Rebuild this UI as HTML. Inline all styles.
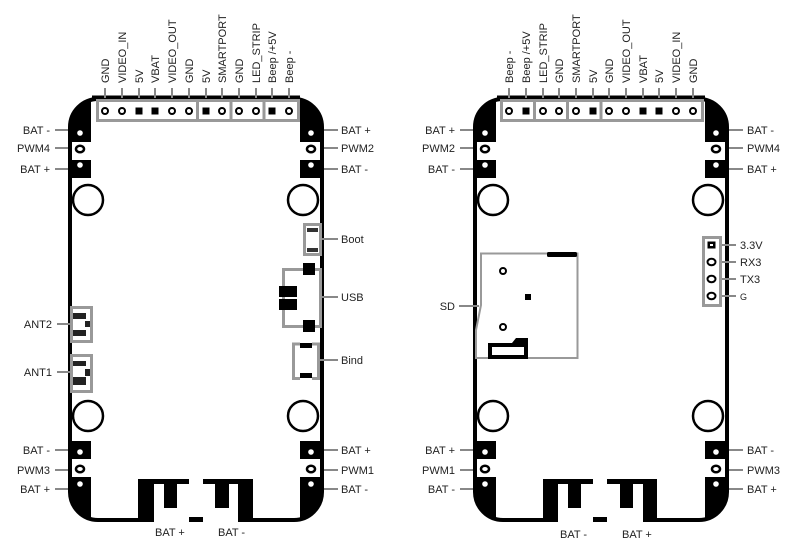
<!DOCTYPE html>
<html><head><meta charset="utf-8"><style>
html,body{margin:0;padding:0;background:#fff;}
svg{display:block;}
text{font-family:"Liberation Sans",sans-serif;font-size:11px;fill:#222;}
.h{font-size:11px;}
</style></head><body>
<svg width="800" height="553" viewBox="0 0 800 553">
<defs>
<clipPath id="cL"><rect x="70" y="99" width="252" height="421" rx="28"/></clipPath>
<clipPath id="cR"><rect x="475" y="99" width="252" height="421" rx="28"/></clipPath>
</defs>

<!-- ===== LEFT BOARD ===== -->
<g clip-path="url(#cL)">
<rect x="66" y="95" width="25" height="47" fill="#000"/>
<rect x="66" y="160" width="25" height="18" fill="#000"/>
<rect x="66" y="441" width="25" height="18" fill="#000"/>
<rect x="66" y="477" width="25" height="47" fill="#000"/>
<rect x="300" y="95" width="25" height="47" fill="#000"/>
<rect x="300" y="160" width="25" height="18" fill="#000"/>
<rect x="300" y="441" width="25" height="18" fill="#000"/>
<rect x="300" y="477" width="25" height="47" fill="#000"/>
</g>
<rect x="70" y="99" width="252" height="421" rx="28" fill="none" stroke="#000" stroke-width="4"/>
<line x1="92" y1="98" x2="300" y2="98" stroke="#000" stroke-width="5"/>
<!-- bottom pads -->
<rect x="138" y="479" width="51" height="43" fill="#000"/>
<rect x="154" y="484" width="35" height="39" fill="#fff"/>
<rect x="164" y="484" width="13" height="24" fill="#000"/>
<rect x="203" y="479" width="50" height="43" fill="#000"/>
<rect x="203" y="484" width="35" height="39" fill="#fff"/>
<rect x="215" y="484" width="14" height="24" fill="#000"/>
<rect x="189" y="517" width="14" height="5" fill="#000"/>
<!-- pad holes -->
<g fill="#fff">
<circle cx="80" cy="133" r="2.8"/><circle cx="80" cy="165" r="2.8"/>
<circle cx="80" cy="452" r="2.8"/><circle cx="80" cy="484" r="2.8"/>
<circle cx="311" cy="133" r="2.8"/><circle cx="311" cy="165" r="2.8"/>
<circle cx="311" cy="452" r="2.8"/><circle cx="311" cy="484" r="2.8"/>
</g>
<g fill="none" stroke="#000" stroke-width="2.5">
<ellipse cx="80" cy="149" rx="4" ry="3.3"/><ellipse cx="80" cy="469" rx="4" ry="3.3"/>
<ellipse cx="311" cy="149" rx="4" ry="3.3"/><ellipse cx="311" cy="469" rx="4" ry="3.3"/>
<circle cx="88" cy="200" r="15"/><circle cx="303" cy="200" r="15"/>
<circle cx="88" cy="416" r="15"/><circle cx="303" cy="416" r="15"/>
</g>
<!-- header -->
<rect x="97.5" y="100.5" width="201" height="20" fill="#fff" stroke="#999" stroke-width="3"/>
<g stroke="#999" stroke-width="3"><line x1="197.5" y1="101" x2="197.5" y2="121"/><line x1="231" y1="101" x2="231" y2="121"/><line x1="264" y1="101" x2="264" y2="121"/></g>
<g stroke="#888" stroke-width="2"><line x1="105" y1="88" x2="105" y2="98"/><line x1="122" y1="88" x2="122" y2="98"/><line x1="139" y1="88" x2="139" y2="98"/><line x1="155" y1="88" x2="155" y2="98"/><line x1="172" y1="88" x2="172" y2="98"/><line x1="189" y1="88" x2="189" y2="98"/><line x1="206" y1="88" x2="206" y2="98"/><line x1="222" y1="88" x2="222" y2="98"/><line x1="239" y1="88" x2="239" y2="98"/><line x1="256" y1="88" x2="256" y2="98"/><line x1="272" y1="88" x2="272" y2="98"/><line x1="289" y1="88" x2="289" y2="98"/></g>
<g fill="none" stroke="#000" stroke-width="2"><circle cx="105" cy="111" r="3"/><circle cx="122" cy="111" r="3"/><circle cx="172" cy="111" r="3"/><circle cx="189" cy="111" r="3"/><circle cx="222" cy="111" r="3"/><circle cx="239" cy="111" r="3"/><circle cx="256" cy="111" r="3"/><circle cx="289" cy="111" r="3"/></g>
<g fill="#000"><rect x="135.5" y="107.5" width="7" height="7"/><rect x="151.5" y="107.5" width="7" height="7"/><rect x="202.5" y="107.5" width="7" height="7"/><rect x="268.5" y="107.5" width="7" height="7"/></g>
<text class="h" transform="translate(109,83) rotate(-90)">GND</text>
<text class="h" transform="translate(126,83) rotate(-90)">VIDEO_IN</text>
<text class="h" transform="translate(143,83) rotate(-90)">5V</text>
<text class="h" transform="translate(159,83) rotate(-90)">VBAT</text>
<text class="h" transform="translate(176,83) rotate(-90)">VIDEO_OUT</text>
<text class="h" transform="translate(193,83) rotate(-90)">GND</text>
<text class="h" transform="translate(210,83) rotate(-90)">5V</text>
<text class="h" transform="translate(226,83) rotate(-90)">SMARTPORT</text>
<text class="h" transform="translate(243,83) rotate(-90)">GND</text>
<text class="h" transform="translate(260,83) rotate(-90)">LED_STRIP</text>
<text class="h" transform="translate(276,83) rotate(-90)">Beep /+5V</text>
<text class="h" transform="translate(293,83) rotate(-90)">Beep -</text>
<!-- side leaders -->
<g stroke="#888" stroke-width="2">
<line x1="55" y1="130" x2="68" y2="130"/><line x1="55" y1="148" x2="68" y2="148"/><line x1="55" y1="169" x2="68" y2="169"/>
<line x1="55" y1="450" x2="68" y2="450"/><line x1="55" y1="470" x2="68" y2="470"/><line x1="55" y1="489" x2="68" y2="489"/>
<line x1="324" y1="130" x2="338" y2="130"/><line x1="324" y1="148" x2="338" y2="148"/><line x1="324" y1="169" x2="338" y2="169"/>
<line x1="324" y1="450" x2="338" y2="450"/><line x1="324" y1="470" x2="338" y2="470"/><line x1="324" y1="489" x2="338" y2="489"/>
<line x1="57" y1="324" x2="70" y2="324"/><line x1="57" y1="372" x2="70" y2="372"/>
<line x1="322" y1="239" x2="338" y2="239"/><line x1="322" y1="297" x2="338" y2="297"/><line x1="320" y1="360" x2="338" y2="360"/>
</g>
<g text-anchor="end">
<text x="50" y="134">BAT -</text><text x="50" y="152">PWM4</text><text x="50" y="173">BAT +</text>
<text x="50" y="454">BAT -</text><text x="50" y="474">PWM3</text><text x="50" y="493">BAT +</text>
<text x="52" y="328">ANT2</text><text x="52" y="376">ANT1</text>
</g>
<text x="341" y="134">BAT +</text><text x="341" y="152">PWM2</text><text x="341" y="173">BAT -</text>
<text x="341" y="454">BAT +</text><text x="341" y="474">PWM1</text><text x="341" y="493">BAT -</text>
<text x="341" y="243">Boot</text><text x="341" y="301">USB</text><text x="341" y="364">Bind</text>
<text x="155" y="536">BAT +</text><text x="218" y="536">BAT -</text>
<!-- ANT -->
<rect x="71.5" y="307.5" width="20" height="34" fill="#fff" stroke="#999" stroke-width="3"/>
<rect x="73" y="313" width="13" height="6" fill="#222"/><rect x="85" y="321" width="5" height="6" fill="#222"/><rect x="73" y="330" width="13" height="6" fill="#222"/>
<rect x="71.5" y="355.5" width="20" height="36" fill="#fff" stroke="#999" stroke-width="3"/>
<rect x="73" y="361" width="13" height="5" fill="#222"/><rect x="85" y="369" width="5" height="7" fill="#222"/><rect x="73" y="377" width="13" height="8" fill="#222"/>
<!-- Boot -->
<rect x="304.5" y="224.5" width="16" height="30" fill="#fff" stroke="#999" stroke-width="3"/>
<rect x="307" y="228" width="11" height="4" fill="#333"/><rect x="307" y="248" width="11" height="4" fill="#333"/>
<!-- USB -->
<rect x="283.5" y="269.5" width="37" height="57" fill="none" stroke="#999" stroke-width="3"/>
<rect x="303" y="263" width="12" height="12" fill="#000"/><rect x="303" y="320" width="12" height="12" fill="#000"/>
<rect x="279" y="286" width="18" height="11" fill="#000"/><rect x="279" y="299" width="18" height="11" fill="#000"/>
<!-- Bind -->
<path d="M300 344 H293.5 V378.5 H300 M312 344 H318.5 V378.5 H312" fill="none" stroke="#999" stroke-width="3"/>
<rect x="300" y="343" width="12" height="5" fill="#000"/><rect x="300" y="373" width="12" height="5" fill="#000"/>

<!-- ===== RIGHT BOARD ===== -->
<g clip-path="url(#cR)">
<rect x="471" y="95" width="25" height="47" fill="#000"/>
<rect x="471" y="160" width="25" height="18" fill="#000"/>
<rect x="471" y="441" width="25" height="18" fill="#000"/>
<rect x="471" y="477" width="25" height="47" fill="#000"/>
<rect x="705" y="95" width="25" height="47" fill="#000"/>
<rect x="705" y="160" width="25" height="18" fill="#000"/>
<rect x="705" y="441" width="25" height="18" fill="#000"/>
<rect x="705" y="477" width="25" height="47" fill="#000"/>
</g>
<rect x="475" y="99" width="252" height="421" rx="28" fill="none" stroke="#000" stroke-width="4"/>
<line x1="497" y1="98" x2="705" y2="98" stroke="#000" stroke-width="5"/>
<rect x="543" y="479" width="50" height="43" fill="#000"/>
<rect x="558" y="484" width="35" height="39" fill="#fff"/>
<rect x="568" y="484" width="13" height="24" fill="#000"/>
<rect x="607" y="479" width="50" height="43" fill="#000"/>
<rect x="607" y="484" width="36" height="39" fill="#fff"/>
<rect x="620" y="484" width="13" height="24" fill="#000"/>
<rect x="593" y="517" width="14" height="5" fill="#000"/>
<g fill="#fff">
<circle cx="485" cy="133" r="2.8"/><circle cx="485" cy="165" r="2.8"/>
<circle cx="485" cy="452" r="2.8"/><circle cx="485" cy="484" r="2.8"/>
<circle cx="716" cy="133" r="2.8"/><circle cx="716" cy="165" r="2.8"/>
<circle cx="716" cy="452" r="2.8"/><circle cx="716" cy="484" r="2.8"/>
</g>
<g fill="none" stroke="#000" stroke-width="2.5">
<ellipse cx="485" cy="149" rx="4" ry="3.3"/><ellipse cx="485" cy="469" rx="4" ry="3.3"/>
<ellipse cx="716" cy="149" rx="4" ry="3.3"/><ellipse cx="716" cy="469" rx="4" ry="3.3"/>
<circle cx="493" cy="200" r="15"/><circle cx="708" cy="200" r="15"/>
<circle cx="493" cy="416" r="15"/><circle cx="708" cy="416" r="15"/>
</g>
<rect x="501.5" y="100.5" width="201" height="20" fill="#fff" stroke="#999" stroke-width="3"/>
<g stroke="#999" stroke-width="3"><line x1="534.5" y1="101" x2="534.5" y2="121"/><line x1="567.5" y1="101" x2="567.5" y2="121"/><line x1="601" y1="101" x2="601" y2="121"/></g>
<g stroke="#888" stroke-width="2"><line x1="509" y1="88" x2="509" y2="98"/><line x1="526" y1="88" x2="526" y2="98"/><line x1="543" y1="88" x2="543" y2="98"/><line x1="559" y1="88" x2="559" y2="98"/><line x1="576" y1="88" x2="576" y2="98"/><line x1="593" y1="88" x2="593" y2="98"/><line x1="609" y1="88" x2="609" y2="98"/><line x1="626" y1="88" x2="626" y2="98"/><line x1="643" y1="88" x2="643" y2="98"/><line x1="659" y1="88" x2="659" y2="98"/><line x1="676" y1="88" x2="676" y2="98"/><line x1="693" y1="88" x2="693" y2="98"/></g>
<g fill="none" stroke="#000" stroke-width="2"><circle cx="509" cy="111" r="3"/><circle cx="543" cy="111" r="3"/><circle cx="559" cy="111" r="3"/><circle cx="576" cy="111" r="3"/><circle cx="609" cy="111" r="3"/><circle cx="626" cy="111" r="3"/><circle cx="676" cy="111" r="3"/><circle cx="693" cy="111" r="3"/></g>
<g fill="#000"><rect x="522.5" y="107.5" width="7" height="7"/><rect x="589.5" y="107.5" width="7" height="7"/><rect x="639.5" y="107.5" width="7" height="7"/><rect x="655.5" y="107.5" width="7" height="7"/></g>
<text class="h" transform="translate(513,83) rotate(-90)">Beep -</text>
<text class="h" transform="translate(530,83) rotate(-90)">Beep /+5V</text>
<text class="h" transform="translate(547,83) rotate(-90)">LED_STRIP</text>
<text class="h" transform="translate(563,83) rotate(-90)">GND</text>
<text class="h" transform="translate(580,83) rotate(-90)">SMARTPORT</text>
<text class="h" transform="translate(597,83) rotate(-90)">5V</text>
<text class="h" transform="translate(613,83) rotate(-90)">GND</text>
<text class="h" transform="translate(630,83) rotate(-90)">VIDEO_OUT</text>
<text class="h" transform="translate(647,83) rotate(-90)">VBAT</text>
<text class="h" transform="translate(663,83) rotate(-90)">5V</text>
<text class="h" transform="translate(680,83) rotate(-90)">VIDEO_IN</text>
<text class="h" transform="translate(697,83) rotate(-90)">GND</text>
<g stroke="#888" stroke-width="2">
<line x1="460" y1="130" x2="473" y2="130"/><line x1="460" y1="148" x2="473" y2="148"/><line x1="460" y1="169" x2="473" y2="169"/>
<line x1="460" y1="450" x2="473" y2="450"/><line x1="460" y1="470" x2="473" y2="470"/><line x1="460" y1="489" x2="473" y2="489"/>
<line x1="729" y1="130" x2="743" y2="130"/><line x1="729" y1="148" x2="743" y2="148"/><line x1="729" y1="169" x2="743" y2="169"/>
<line x1="729" y1="450" x2="743" y2="450"/><line x1="729" y1="470" x2="743" y2="470"/><line x1="729" y1="489" x2="743" y2="489"/>
<line x1="459" y1="306" x2="479" y2="306"/>
<line x1="722" y1="245" x2="736" y2="245"/><line x1="722" y1="262" x2="736" y2="262"/><line x1="722" y1="279" x2="736" y2="279"/><line x1="722" y1="296" x2="736" y2="296"/>
</g>
<g text-anchor="end">
<text x="455" y="134">BAT +</text><text x="455" y="152">PWM2</text><text x="455" y="173">BAT -</text>
<text x="455" y="454">BAT +</text><text x="455" y="474">PWM1</text><text x="455" y="493">BAT -</text>
<text x="455" y="310">SD</text>
</g>
<text x="747" y="134">BAT -</text><text x="747" y="152">PWM4</text><text x="747" y="173">BAT +</text>
<text x="747" y="454">BAT -</text><text x="747" y="474">PWM3</text><text x="747" y="493">BAT +</text>
<text x="740" y="249">3.3V</text><text x="740" y="266">RX3</text><text x="740" y="283">TX3</text><text x="740" y="300" style="font-size:9px">G</text>
<text x="560" y="538">BAT -</text><text x="622" y="538">BAT +</text>
<!-- SD -->
<path d="M481 253.5 H577.5 V358 H476 V330 L481 305 Z" fill="#fff" stroke="#999" stroke-width="2"/>
<rect x="547" y="252" width="30" height="5" rx="1.5" fill="#000"/>
<circle cx="503" cy="271" r="3" fill="none" stroke="#000" stroke-width="2"/>
<circle cx="503" cy="327" r="3" fill="none" stroke="#000" stroke-width="2"/>
<rect x="525" y="294" width="6" height="6" fill="#000"/>
<path d="M488 343 H512 L516 338 H528 V359 H488 Z" fill="#000"/>
<rect x="492" y="347" width="32" height="8" fill="#fff"/>
<!-- 4 pin -->
<rect x="703.5" y="237.5" width="17" height="68" fill="#fff" stroke="#999" stroke-width="3"/>
<rect x="707.5" y="241.5" width="8" height="7" fill="#000"/><rect x="710" y="244" width="3" height="2" fill="#fff"/>
<g fill="none" stroke="#000" stroke-width="2"><ellipse cx="711.5" cy="262" rx="4" ry="3.3"/><ellipse cx="711.5" cy="279" rx="4" ry="3.3"/><ellipse cx="711.5" cy="296" rx="4" ry="3.3"/></g>
</svg>
</body></html>
